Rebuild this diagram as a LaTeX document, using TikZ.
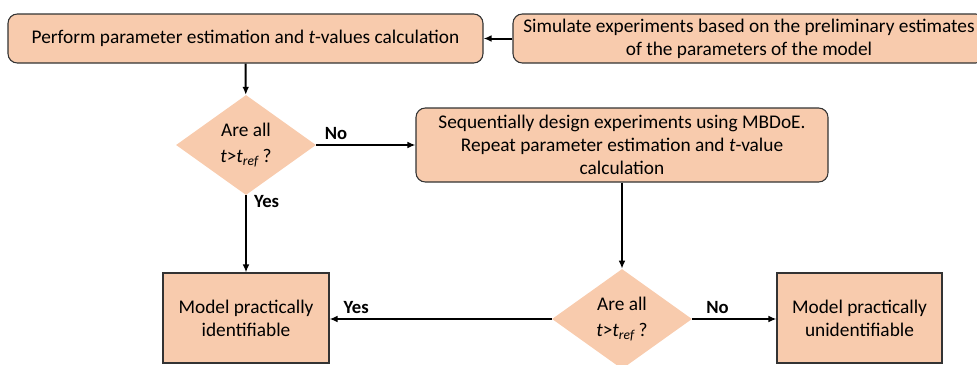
\documentclass[tikz,border=0pt]{standalone}
\usepackage{fontspec}
\setmainfont{Carlito}
\usepackage{xcolor}
\usepackage{tikz}
\usetikzlibrary{arrows.meta}
\usetikzlibrary{shapes.geometric}
\definecolor{peach}{HTML}{F8CBAD}
\definecolor{edge}{HTML}{333333}
\newcommand{\tval}{\textit{t}}
\newcommand{\tref}{\textit{t}>\textit{t}\textsubscript{\textit{ref}}\,?}

\begin{document}
\begin{tikzpicture}[x=0.75pt, y=-0.75pt,
    font=\fontsize{14.5}{17.2}\selectfont,
    roundbox/.style={draw=edge, fill=peach, line width=0.8pt, rounded corners=7pt, align=center, inner sep=0pt},
    plainbox/.style={draw=edge, fill=peach, line width=0.8pt, align=center, inner sep=0pt},
    decision/.style={diamond, draw=none, fill=peach, align=center, inner sep=0pt,
      minimum width=105pt, minimum height=75pt, font=\fontsize{14.5}{19}\selectfont},
    flow/.style={line width=1.5pt, -{Latex[length=6pt, width=5pt]}},
    answer/.style={font=\fontsize{14}{16}\selectfont\bfseries}]

      \useasboundingbox (0,0) rectangle (977,364);
      \clip (0,0) rectangle (977,364);

      \node [roundbox, minimum width=356.25pt, minimum height=36.75pt] (estimate) at (245.5, 38.5)
        {Perform parameter estimation and \tval-values calculation};
      \node [roundbox, minimum width=354pt, minimum height=36.75pt] (simulate) at (749, 38.5)
        {Simulate experiments based on the preliminary estimates\\of the parameters of the model};
      \node [decision] (check1) at (246, 145) {Are all\\\tref};
      \node [roundbox, minimum width=309pt, minimum height=55.5pt] (design) at (622, 145)
        {Sequentially design experiments using MBDoE.\\Repeat parameter estimation and \tval-value\\calculation};
      \node [decision] (check2) at (622, 319) {Are all\\\tref};
      \node [plainbox, minimum width=124.5pt, minimum height=67.5pt] (ident) at (246, 318)
        {Model practically\\identifiable};
      \node [plainbox, minimum width=123.75pt, minimum height=67.5pt] (unident) at (859.5, 318)
        {Model practically\\unidentifiable};

      \draw [flow] (simulate) -- (estimate);
      \draw [flow] (estimate) -- (check1);
      \draw [flow] (check1) -- node [answer, above, pos=0.2] {No} (design);
      \draw [flow] (check1) -- node [answer, right, pos=0.08, xshift=2pt] {Yes} (ident);
      \draw [flow] (design) -- (check2);
      \draw [flow] (check2) -- node [answer, above, pos=0.88] {Yes} (ident.east |- check2);
      \draw [flow] (check2) -- node [answer, above, pos=0.3] {No} (unident.west |- check2);

    \end{tikzpicture}
\end{document}
